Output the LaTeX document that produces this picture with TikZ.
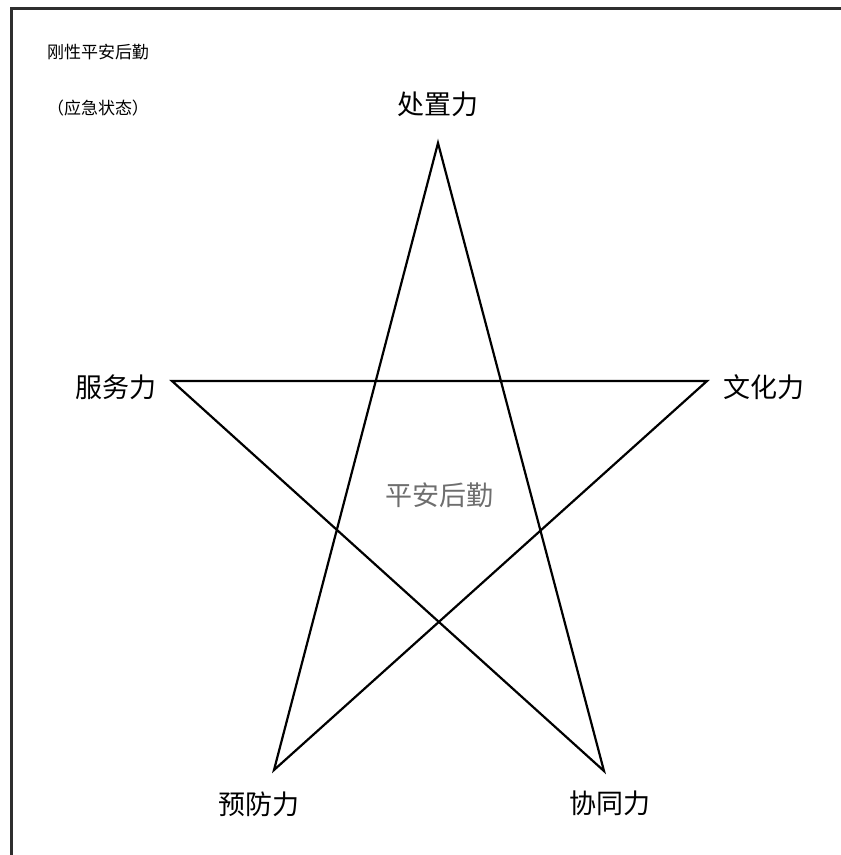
\documentclass[tikz,border=0pt]{standalone}
\usepackage{fontspec}
\setmainfont{Noto Sans CJK SC}
\usetikzlibrary{positioning}
\definecolor{frmgray}{HTML}{2E2E2E}
\definecolor{txtgray}{HTML}{6E6E6E}
\tikzset{
  lbl/.style={inner sep=0pt,font=\fontsize{27}{30}\selectfont},
  note/.style={inner sep=0pt,font=\fontsize{17}{19}\selectfont},
  midlbl/.style={lbl,text=txtgray},
  starline/.style={draw=black,line width=2.2pt,line join=miter},
  frame/.style={draw=frmgray,line width=3pt},
}
\begin{document}
\begin{tikzpicture}[x=1pt,y=-1pt]
    \useasboundingbox (0,0) rectangle (841,855);
    % frame
    \coordinate (fbl) at (11,855);
    \coordinate (ftl) at (11,8);
    \coordinate (ftr) at (841,8);
    \draw[frame] (fbl) -- (ftl) -- (ftr);
    % star points
    \coordinate (ptop) at (438,143);
    \coordinate (pleft) at (172,381);
    \coordinate (pright) at (707,381);
    \coordinate (pbl) at (274,770);
    \coordinate (pbr) at (604,771);
    \draw[starline] (ptop) -- (pbl) -- (pright) -- (pleft) -- (pbr) -- cycle;
    % labels
    \node[lbl] (czl) at (438,104) {处置力};
    \node[lbl] (fwl) at (116,387) {服务力};
    \node[lbl] (whl) at (764,387) {文化力};
    \node[lbl] (yfl) at (259,804) {预防力};
    \node[lbl] (xtl) at (610,803) {协同力};
    \node[midlbl] (pahq) at (439,495) {平安后勤};
    % top-left note
    \node[note] (title) at (98,52) {刚性平安后勤};
    \node[note] (state) at (98,108) {（应急状态）};
\end{tikzpicture}
\end{document}
